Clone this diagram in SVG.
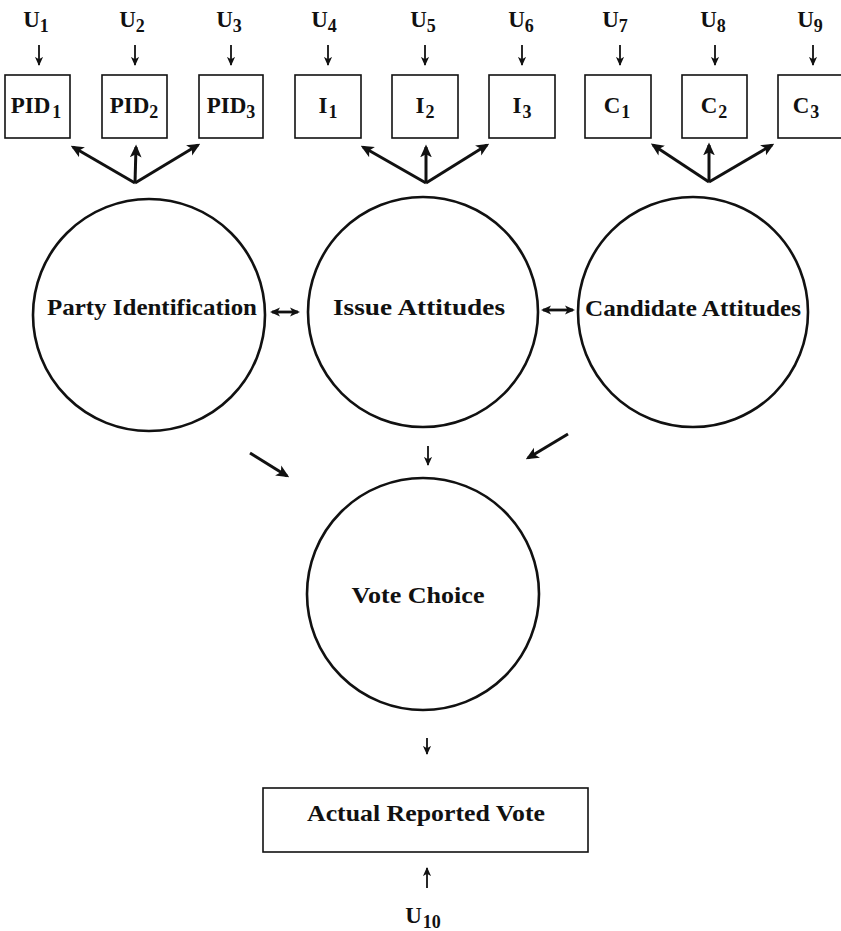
<svg xmlns="http://www.w3.org/2000/svg" width="841" height="931" viewBox="0 0 841 931">
<style>
text{font-family:"Liberation Serif","Times New Roman",serif;font-weight:bold;fill:#111;}
.u{font-size:23px;text-anchor:middle;}
.lab{font-size:23px;text-anchor:middle;}
.sub{font-size:18px;}
.box{fill:#fff;stroke:#111;stroke-width:1.6;}
.circ{fill:#fff;stroke:#111;stroke-width:2.6;}
.thin{stroke:#111;stroke-width:1.8;fill:none;marker-end:url(#hs);}
.thick{stroke:#111;stroke-width:3;fill:none;marker-end:url(#hb);}
.dbl{stroke:#111;stroke-width:2.8;fill:none;marker-end:url(#hd);marker-start:url(#hd);}
</style>
<defs>
<marker id="hs" viewBox="0 0 10 10" refX="9" refY="5" markerWidth="9" markerHeight="9" markerUnits="userSpaceOnUse" orient="auto"><path d="M0,0.5 L10,5 L0,9.5 L2.5,5 z" fill="#111"/></marker>
<marker id="hb" viewBox="0 0 10 10" refX="8" refY="5" markerWidth="13" markerHeight="13" markerUnits="userSpaceOnUse" orient="auto"><path d="M0,0.5 L10,5 L0,9.5 L2.5,5 z" fill="#111"/></marker>
<marker id="hd" viewBox="0 0 10 10" refX="8" refY="5" markerWidth="10" markerHeight="10" markerUnits="userSpaceOnUse" orient="auto-start-reverse"><path d="M0,0.5 L10,5 L0,9.5 L2.5,5 z" fill="#111"/></marker>
</defs>
<rect width="841" height="931" fill="#fff"/>

<g id="U-labels">
<text class="u" x="36" y="27">U<tspan class="sub" dy="5">1</tspan></text>
<text class="u" x="132" y="27">U<tspan class="sub" dy="5">2</tspan></text>
<text class="u" x="229" y="27">U<tspan class="sub" dy="5">3</tspan></text>
<text class="u" x="324" y="27">U<tspan class="sub" dy="5">4</tspan></text>
<text class="u" x="423" y="27">U<tspan class="sub" dy="5">5</tspan></text>
<text class="u" x="521" y="27">U<tspan class="sub" dy="5">6</tspan></text>
<text class="u" x="615" y="27">U<tspan class="sub" dy="5">7</tspan></text>
<text class="u" x="713" y="27">U<tspan class="sub" dy="5">8</tspan></text>
<text class="u" x="810" y="27">U<tspan class="sub" dy="5">9</tspan></text>
</g>

<g id="PID1"><rect class="box" x="5" y="75" width="65" height="63"/><text class="lab" x="36" y="113">PID<tspan class="sub" dx="2" dy="5">1</tspan></text></g>
<g id="PID2"><rect class="box" x="102" y="75" width="65" height="63"/><text class="lab" x="134" y="113">PID<tspan class="sub" dy="5">2</tspan></text></g>
<g id="PID3"><rect class="box" x="199" y="75" width="64" height="63"/><text class="lab" x="231" y="113">PID<tspan class="sub" dy="5">3</tspan></text></g>
<g id="I1"><rect class="box" x="295" y="75" width="66" height="63"/><text class="lab" x="328" y="113">I<tspan class="sub" dx="1" dy="5">1</tspan></text></g>
<g id="I2"><rect class="box" x="392" y="75" width="66" height="63"/><text class="lab" x="425" y="113">I<tspan class="sub" dx="1" dy="5">2</tspan></text></g>
<g id="I3"><rect class="box" x="489" y="75" width="66" height="63"/><text class="lab" x="522" y="113">I<tspan class="sub" dx="1" dy="5">3</tspan></text></g>
<g id="C1"><rect class="box" x="585" y="75" width="66" height="63"/><text class="lab" x="617" y="113">C<tspan class="sub" dx="1" dy="5">1</tspan></text></g>
<g id="C2"><rect class="box" x="682" y="75" width="65" height="63"/><text class="lab" x="714" y="113">C<tspan class="sub" dx="1" dy="5">2</tspan></text></g>
<g id="C3"><rect class="box" x="778" y="75" width="70" height="63"/><text class="lab" x="806" y="113">C<tspan class="sub" dx="1" dy="5">3</tspan></text></g>

<g id="party"><circle class="circ" cx="149" cy="315" r="116"/><text class="lab" x="152" y="315" textLength="210" lengthAdjust="spacingAndGlyphs">Party Identification</text></g>
<g id="issue"><circle class="circ" cx="423" cy="312" r="115"/><text class="lab" x="419" y="315" textLength="172" lengthAdjust="spacingAndGlyphs">Issue Attitudes</text></g>
<g id="candidate"><circle class="circ" cx="693" cy="312" r="115"/><text class="lab" x="693" y="316" textLength="216" lengthAdjust="spacingAndGlyphs">Candidate Attitudes</text></g>
<g id="vote"><circle class="circ" cx="423" cy="594" r="116"/><text class="lab" x="418" y="603" textLength="133" lengthAdjust="spacingAndGlyphs">Vote Choice</text></g>
<g id="actual"><rect class="box" x="263" y="788" width="325" height="64"/><text class="lab" x="426" y="821" textLength="238" lengthAdjust="spacingAndGlyphs">Actual Reported Vote</text></g>
<g id="U10"><text class="u" x="423" y="923">U<tspan class="sub" dx="1" dy="5">10</tspan></text></g>

<g id="connectors">
<line class="thin" x1="39" y1="45" x2="39" y2="65"/>
<line class="thin" x1="135" y1="45" x2="135" y2="65"/>
<line class="thin" x1="231" y1="45" x2="231" y2="65"/>
<line class="thin" x1="328" y1="45" x2="328" y2="65"/>
<line class="thin" x1="425" y1="45" x2="425" y2="65"/>
<line class="thin" x1="522" y1="45" x2="522" y2="65"/>
<line class="thin" x1="620" y1="45" x2="620" y2="65"/>
<line class="thin" x1="715" y1="45" x2="715" y2="65"/>
<line class="thin" x1="813" y1="45" x2="813" y2="65"/>

<line class="thick" x1="135" y1="183" x2="73" y2="147"/>
<line class="thick" x1="135" y1="183" x2="136" y2="147"/>
<line class="thick" x1="135" y1="183" x2="198" y2="145"/>
<line class="thick" x1="426" y1="183" x2="363" y2="147"/>
<line class="thick" x1="426" y1="183" x2="426" y2="147"/>
<line class="thick" x1="426" y1="183" x2="487" y2="145"/>
<line class="thick" x1="709" y1="182" x2="653" y2="145"/>
<line class="thick" x1="709" y1="182" x2="709" y2="145"/>
<line class="thick" x1="709" y1="182" x2="772" y2="145"/>

<line class="dbl" x1="272" y1="312" x2="298" y2="312"/>
<line class="dbl" x1="543" y1="310" x2="573" y2="310"/>

<line class="thick" x1="250" y1="453" x2="287" y2="476"/>
<line class="thin" x1="428" y1="446" x2="428" y2="465"/>
<line class="thick" x1="568" y1="434" x2="528" y2="458"/>

<line class="thin" x1="427" y1="738" x2="427" y2="754"/>
<line class="thin" x1="427" y1="888" x2="427" y2="868"/>
</g>
</svg>
